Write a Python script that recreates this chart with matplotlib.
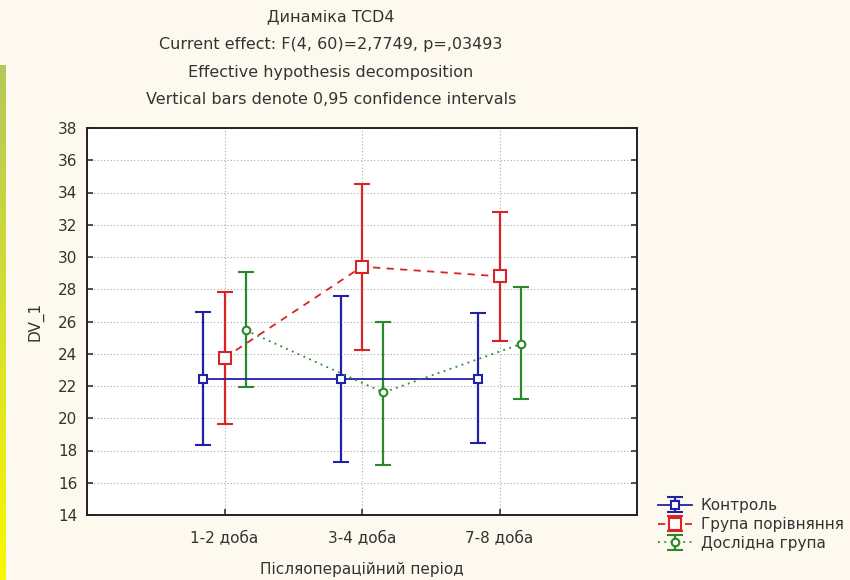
import numpy as np
import matplotlib.pyplot as plt
from matplotlib.colors import LinearSegmentedColormap

plt.rcParams['font.family'] = ['DejaVu Sans']

periods = ["1-2 доба", "3-4 доба", "7-8 доба"]
groups = ["Контроль", "Група порівняння", "Дослідна група"]

# means and 0.95 CI bounds
control_mean = [22.45, 22.45, 22.45]
control_lo = [18.35, 17.3, 18.45]
control_hi = [26.6, 27.6, 26.5]

compare_mean = [23.75, 29.4, 28.8]
compare_lo = [19.65, 24.25, 24.8]
compare_hi = [27.85, 34.5, 32.8]

study_mean = [25.45, 21.6, 24.6]
study_lo = [21.95, 17.1, 21.2]
study_hi = [29.1, 26.0, 28.15]

bg = "#fdf9ee"
fig = plt.figure(figsize=(8.5, 5.8), dpi=100, facecolor=bg)

# yellow-green strip on the left edge
strip = fig.add_axes([0, 0, 6/850, 515/580])
cmap = LinearSegmentedColormap.from_list("s", ["#b4c85a", "#f8f800"])
strip.imshow(np.linspace(0, 1, 100).reshape(-1, 1), aspect="auto", cmap=cmap)
strip.axis("off")

ax = fig.add_axes([87/850, 65/580, 550/850, 387/580])
ax.set_facecolor("white")

x = np.arange(1, len(periods) + 1)
off = 0.155

series = [
    (control_mean, control_lo, control_hi, -off, "#2121a6", "-", "s", 5.5),
    (compare_mean, compare_lo, compare_hi, 0.0, "#d82424", (0, (4, 3.5)), "s", 8),
    (study_mean, study_lo, study_hi, off, "#2a8a2a", (0, (1, 2.5)), "o", 5.5),
]

for (m, lo, hi, dx, c, ls, mk, ms), name in zip(series, groups):
    m = np.array(m)
    err = [m - np.array(lo), np.array(hi) - m]
    ax.errorbar(x + dx, m, yerr=err, color=c, linestyle=ls, linewidth=1.3,
                elinewidth=1.6, capsize=5.5, capthick=1.6,
                marker=mk, markersize=ms, markerfacecolor="white",
                markeredgecolor=c, markeredgewidth=1.5, label=name)

ax.set_xlim(0, 4)
ax.set_ylim(14, 38)
ax.set_yticks(np.arange(14, 39, 2))
ax.set_xticks(x)
ax.set_xticklabels(periods)
ax.grid(True, linestyle=(0, (1, 2)), color="#aaaaaa", linewidth=0.8)
ax.set_axisbelow(True)
ax.tick_params(direction="in", length=4, width=1.2, labelsize=11,
               right=True, pad=7, colors="#333333")
ax.tick_params(axis="x", pad=11)
for s in ax.spines.values():
    s.set_linewidth(1.4)
    s.set_color("#222222")

ax.set_ylabel("DV_1", fontsize=11, labelpad=10, color="#333333")
ax.set_xlabel("Післяопераційний період", fontsize=11, labelpad=12,
              color="#333333")

titles = ["Динаміка TCD4",
          "Current effect: F(4, 60)=2,7749, p=,03493",
          "Effective hypothesis decomposition",
          "Vertical bars denote 0,95 confidence intervals"]
for i, t in enumerate(titles):
    fig.text(331/850, 1 - (17 + i * 27.5)/580, t, ha="center", va="center",
             fontsize=11.5, color="#333333")

leg = fig.legend(loc="upper left", bbox_to_anchor=(652/850, 1 - 492/580),
                 frameon=False, fontsize=11, handlelength=2.2,
                 handletextpad=0.6, labelspacing=0.25, borderaxespad=0)
for t in leg.get_texts():
    t.set_color("#333333")

fig.savefig("out.png", dpi=100, facecolor=bg)
